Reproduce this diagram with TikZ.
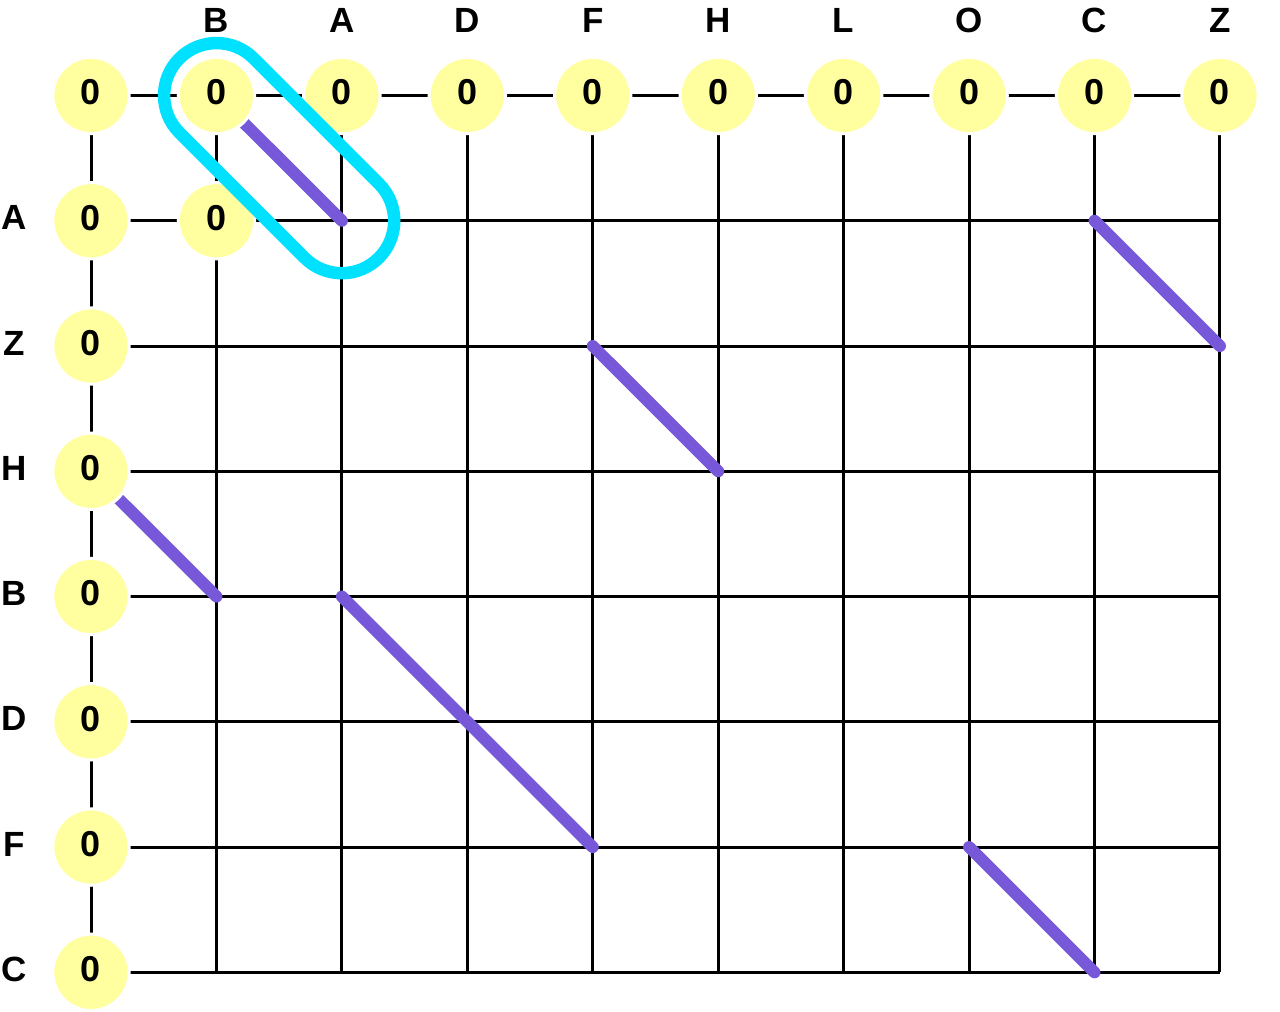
\documentclass[tikz,border=0pt]{standalone}
\usepackage{fontspec}
\setmainfont{Liberation Sans}
\usetikzlibrary{calc}
\definecolor{cellyellow}{RGB}{255,255,160}
\definecolor{matchpurple}{RGB}{118,88,216}
\definecolor{pillcyan}{RGB}{0,225,255}
\begin{document}
\begin{tikzpicture}[x=1pt,y=-1pt,
  gridline/.style={black,line width=3pt},
  matchline/.style={matchpurple,line width=12pt,line cap=round},
  cell/.style={circle,fill=cellyellow,draw=white,line width=3pt,minimum size=76.4pt,inner sep=0pt},
  digit/.style={font=\fontsize{36}{40}\selectfont\bfseries,inner sep=0pt},
  lab/.style={font=\fontsize{35}{40}\selectfont\bfseries,inner sep=0pt},
  pill/.style={draw=pillcyan,line width=12.5pt,rectangle,rounded corners=52.5pt,
    minimum width=282pt,minimum height=105pt,inner sep=0pt,rotate=-45}]
\useasboundingbox (0,0) rectangle (1280,1012);
\foreach \i in {0,...,9}{
  \foreach \j in {0,...,7}{
    \coordinate (g-\i-\j) at ({91+125.44*\i},{95.5+125.26*\j});
  }
}
% grid
\foreach \i in {0,...,9}{\draw[gridline] (g-\i-0) -- (g-\i-7);}
\foreach \j in {0,...,7}{\draw[gridline] (g-0-\j) -- (g-9-\j);}
% matches
\draw[matchline] (g-1-0) -- (g-2-1);
\draw[matchline] (g-8-1) -- (g-9-2);
\draw[matchline] (g-4-2) -- (g-5-3);
\draw[matchline] (g-0-3) -- (g-1-4);
\draw[matchline] (g-2-4) -- (g-4-6);
\draw[matchline] (g-7-6) -- (g-8-7);
% cells
\foreach \i in {0,...,9}{
  \node[cell] (t\i) at (g-\i-0) {};
  \node[digit] (dt\i) at ([yshift=3.5pt]g-\i-0) {0};
}
\foreach \j in {1,...,7}{
  \node[cell] (l\j) at (g-0-\j) {};
  \node[digit] (dl\j) at ([yshift=3pt]g-0-\j) {0};
}
\node[cell] (c11) at (g-1-1) {};
\node[digit] (dc11) at ([yshift=3pt]g-1-1) {0};
% labels
\foreach \l [count=\i] in {B,A,D,F,H,L,O,C,Z}{
  \node[lab] (col\i) at ([yshift=75pt]g-\i-0) {\l};
}
\foreach \l [count=\j] in {A,Z,H,B,D,F,C}{
  \node[lab] (row\j) at ([xshift=-77pt,yshift=3pt]g-0-\j) {\l};
}
% highlight
\node[pill] (hl) at ($(g-1-0)!0.5!(g-2-1)$) {};
\end{tikzpicture}
\end{document}
